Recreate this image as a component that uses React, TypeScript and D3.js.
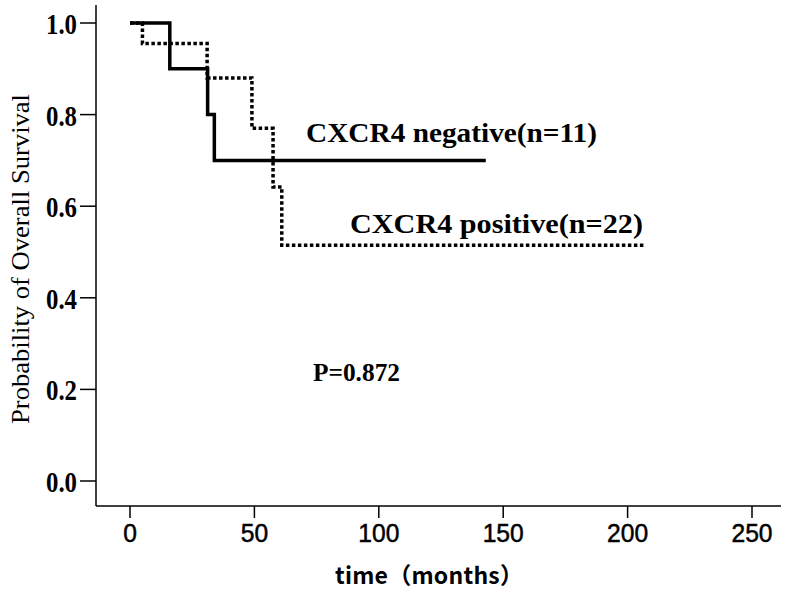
import React from "react";
import * as d3 from "d3";

const negTimes = [0, 16, 31.2, 33.9, 143];
const negSurv = [1.0, 0.9, 0.8, 0.7, 0.7];
const posTimes = [0, 5, 31, 49, 57.5, 61, 207];
const posSurv = [1.0, 0.955, 0.88, 0.77, 0.642, 0.515, 0.515];
const xTicks = [0, 50, 100, 150, 200, 250];
const yTicks = [0, 0.2, 0.4, 0.6, 0.8, 1.0];
const negLabel = "CXCR4 negative(n=11)";
const posLabel = "CXCR4 positive(n=22)";
const pLabel = "P=0.872";

export default function App() {
  const W = 787, H = 596;
  const x = d3.scaleLinear().domain([0, 250]).range([130, 752]);
  const y = d3.scaleLinear().domain([0, 1]).range([481, 23]);
  const axisX0 = 96, axisY0 = 506;
  const line = d3
    .line<[number, number]>()
    .x((d) => x(d[0]))
    .y((d) => y(d[1]))
    .curve(d3.curveStepAfter);
  const negPts = negTimes.map((t, i) => [t, negSurv[i]] as [number, number]);
  const posPts = posTimes.map((t, i) => [t, posSurv[i]] as [number, number]);
  const serif = "'Liberation Serif', 'Times New Roman', serif";
  const sans = "'Liberation Sans', Arial, sans-serif";
  return (
    <svg width={W} height={H} style={{ position: "absolute", left: 0, top: 0, background: "#fff" }}>
      <rect width={W} height={H} fill="#fff" />
      {/* axes */}
      <line x1={axisX0} x2={axisX0} y1={5} y2={axisY0} stroke="#000" strokeWidth={1.5} />
      <line x1={axisX0} x2={781} y1={axisY0} y2={axisY0} stroke="#000" strokeWidth={1.5} />
      {yTicks.map((t) => (
        <g key={"y" + t}>
          <line x1={80} x2={axisX0} y1={y(t)} y2={y(t)} stroke="#000" strokeWidth={1.5} />
          <text x={77} y={y(t) + 11} textAnchor="end" fontFamily={serif} fontWeight="bold" fontSize={29}
            textLength={31} lengthAdjust="spacingAndGlyphs">
            {t.toFixed(1)}
          </text>
        </g>
      ))}
      {xTicks.map((t) => (
        <g key={"x" + t}>
          <line x1={x(t)} x2={x(t)} y1={axisY0} y2={axisY0 + 12} stroke="#000" strokeWidth={1.5} />
          <text x={x(t)} y={542} textAnchor="middle" fontFamily={sans} fontSize={26}
            stroke="#000" strokeWidth={0.5}
            textLength={13.7 * String(t).length} lengthAdjust="spacingAndGlyphs">
            {t}
          </text>
        </g>
      ))}
      <text transform="translate(29,259) rotate(-90)" textAnchor="middle" fontFamily={serif} fontSize={25}
        textLength={330} lengthAdjust="spacingAndGlyphs">
        Probability of Overall Survival
      </text>
      <text x={335} y={584} fontFamily="'Noto Sans CJK SC', sans-serif" fontWeight="bold" fontSize={23}
        textLength={188} lengthAdjust="spacing">
        time（months）
      </text>
      {/* curves */}
      <path d={line(posPts) || ""} fill="none" stroke="#000" strokeWidth={3.5} strokeDasharray="3.5 2.5" />
      <path d={line(negPts) || ""} fill="none" stroke="#000" strokeWidth={3.5} />
      <text x={306} y={142} fontFamily={serif} fontWeight="bold" fontSize={28}
        textLength={291} lengthAdjust="spacingAndGlyphs">
        {negLabel}
      </text>
      <text x={350} y={233} fontFamily={serif} fontWeight="bold" fontSize={28}
        textLength={293} lengthAdjust="spacingAndGlyphs">
        {posLabel}
      </text>
      <text x={313} y={381} fontFamily={serif} fontWeight="bold" fontSize={26}
        textLength={87} lengthAdjust="spacingAndGlyphs">
        {pLabel}
      </text>
    </svg>
  );
}
